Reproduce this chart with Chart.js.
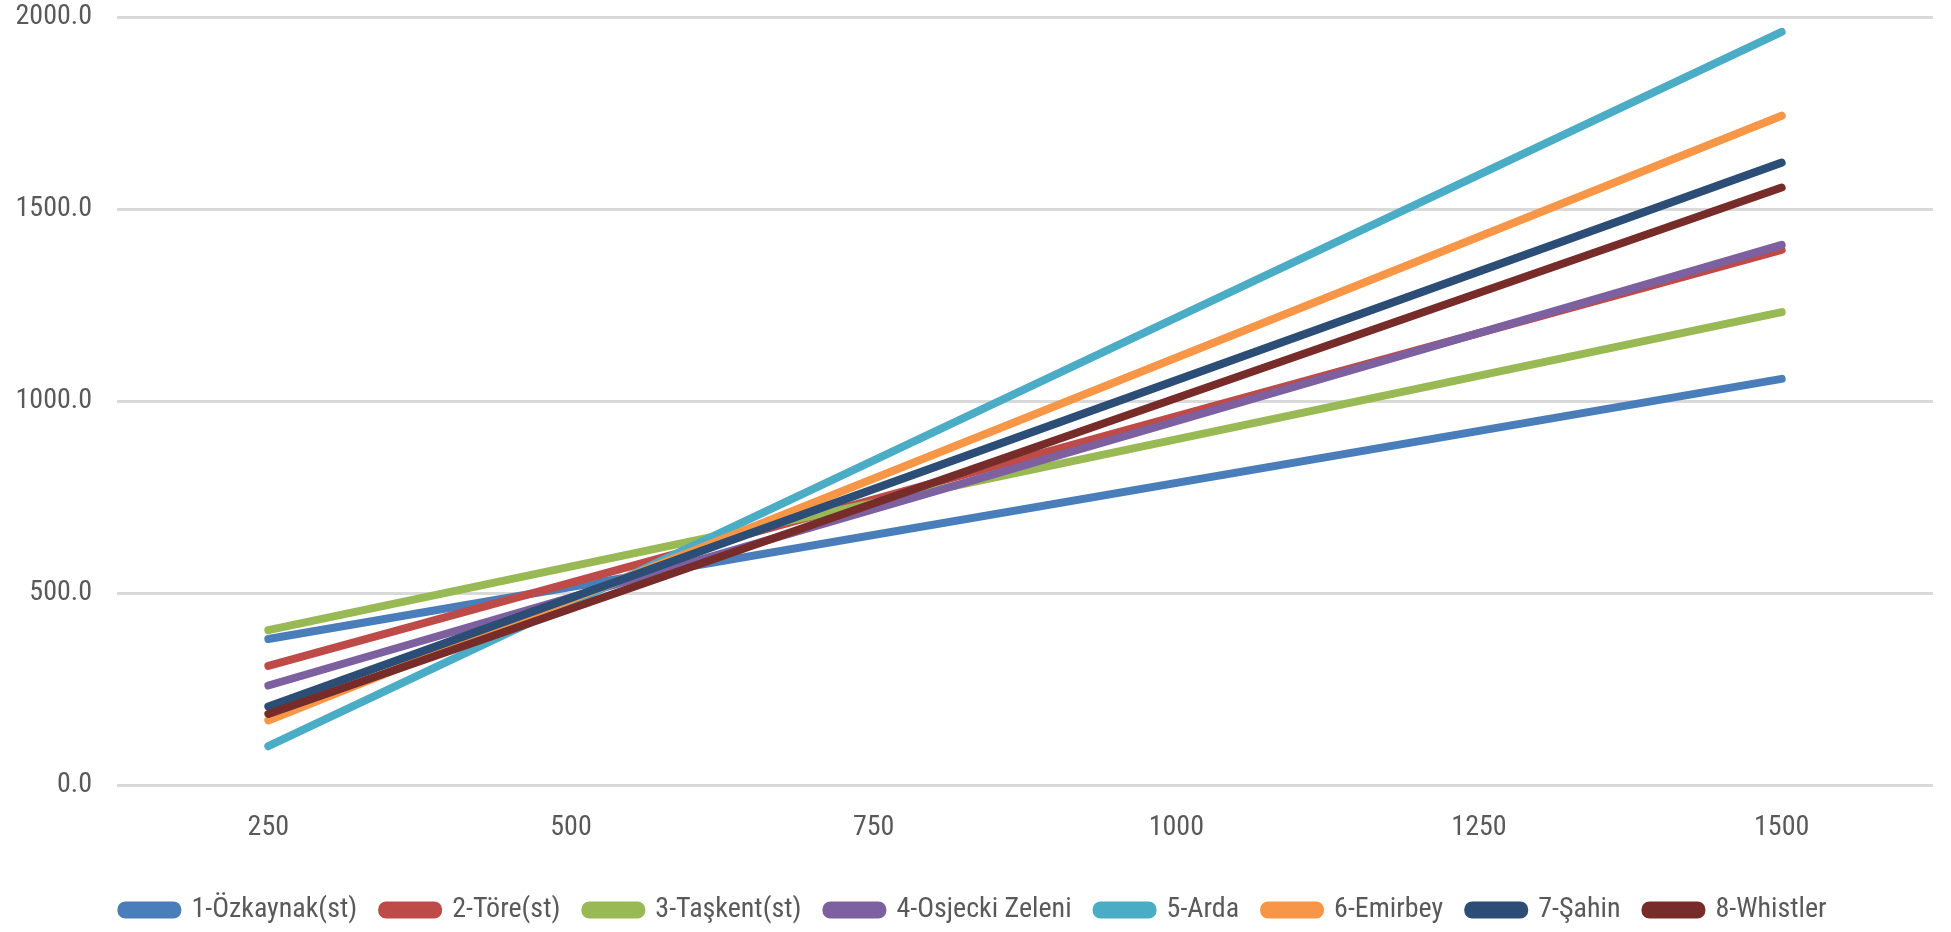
<!DOCTYPE html>
<html>
<head>
<meta charset="utf-8">
<script src="https://cdn.jsdelivr.net/npm/chart.js@4.4.1/dist/chart.umd.min.js"></script>
<style>
html,body{margin:0;padding:0;background:#fff;}
#wrap{width:1951px;height:932px;position:relative;}
</style>
</head>
<body>
<div id="wrap"><canvas id="c"></canvas></div>
<script>
const categories = ['250', '500', '750', '1000', '1250', '1500'];
const seriesNames = ['1-Özkaynak(st)', '2-Töre(st)', '3-Taşkent(st)', '4-Osjecki Zeleni', '5-Arda', '6-Emirbey', '7-Şahin', '8-Whistler'];
const ozkaynak = [381, null, null, null, null, 1058];
const tore     = [311, null, null, null, null, 1394];
const taskent  = [404, null, null, null, null, 1232];
const osjecki  = [260, null, null, null, null, 1407];
const arda     = [102, null, null, null, null, 1961];
const emirbey  = [169, null, null, null, null, 1743];
const sahin    = [205, null, null, null, null, 1621];
const whistler = [186, null, null, null, null, 1556];
const yTicks = [0, 500, 1000, 1500, 2000];

const seriesValues = [ozkaynak, tore, taskent, osjecki, arda, emirbey, sahin, whistler];
const colors = ['#4a7ebb', '#be4b48', '#98b954', '#7d60a0', '#4bacc6', '#f79646', '#2c4d75', '#772c2a'];

const FONT = "'Roboto Condensed', 'Open Sans Condensed', sans-serif";

const datasets = seriesValues.map((vals, i) => ({
  label: seriesNames[i],
  data: vals,
  borderColor: colors[i],
  backgroundColor: colors[i],
  borderWidth: 8,
  borderCapStyle: 'round',
  borderJoinStyle: 'round',
  pointRadius: 0,
  pointHoverRadius: 0,
  tension: 0,
  spanGaps: true,
  fill: false,
  order: seriesValues.length - i
}));

const legendTrim = {
  id: 'legendTrim',
  beforeLayout(chart) {
    const lg = chart.legend;
    if (lg && !lg._trimmed) {
      const orig = lg.fit.bind(lg);
      lg.fit = function () { orig(); this.height -= 2; };
      lg._trimmed = true;
    }
  }
};

new Chart(document.getElementById('c'), {
  type: 'line',
  data: { labels: categories, datasets },
  plugins: [legendTrim],
  options: {
    responsive: true,
    maintainAspectRatio: false,
    animation: false,
    layout: { padding: { left: 15, right: 18, top: 17, bottom: 0 } },
    plugins: {
      tooltip: { enabled: false },
      legend: {
        position: 'bottom',
        labels: {
          font: { family: FONT, size: 28 },
          color: '#595959',
          boxWidth: 56,
          boxHeight: 9,
          useBorderRadius: true,
          borderRadius: 4,
          padding: 25,
          sort: (a, b) => a.datasetIndex - b.datasetIndex
        }
      }
    },
    scales: {
      x: {
        offset: true,
        grid: { display: false, drawTicks: false },
        border: { display: false },
        ticks: { font: { family: FONT, size: 28 }, color: '#595959', padding: 26, maxRotation: 0 }
      },
      y: {
        min: 0,
        max: 2000,
        afterBuildTicks: (axis) => { axis.ticks = yTicks.map(v => ({ value: v })); },
        afterFit: (axis) => { axis.width = 102; axis.paddingTop = 0; axis.paddingBottom = 0; },
        grid: { color: '#d9d9d9', lineWidth: 3, drawTicks: false },
        border: { display: false },
        ticks: {
          font: { family: FONT, size: 28 },
          color: '#595959',
          padding: 25,
          callback: (v) => Number(v).toFixed(1)
        }
      }
    }
  }
});
</script>
</body>
</html>
